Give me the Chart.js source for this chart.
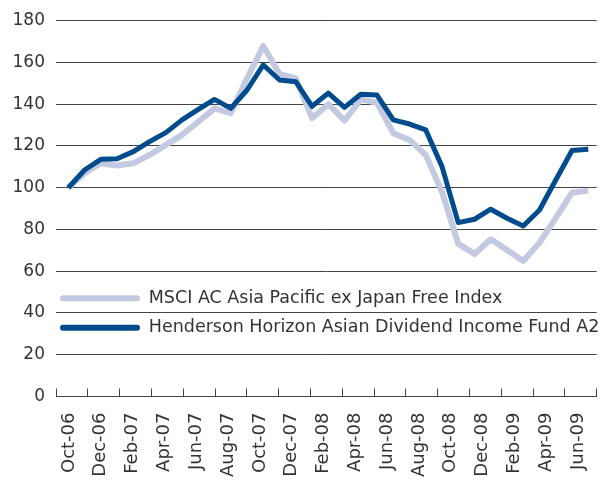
<!DOCTYPE html>
<html>
<head>
<meta charset="utf-8">
<script src="https://cdn.jsdelivr.net/npm/chart.js@4.4.1/dist/chart.umd.min.js"></script>
<style>
  html, body { margin: 0; padding: 0; background: #ffffff; }
  #wrap { width: 601px; height: 480px; position: relative; }
</style>
</head>
<body>
<div id="wrap"><canvas id="c" width="601" height="480"></canvas></div>
<script>
// Months Oct-06 .. Jun-09 (one value per month)
const months = ["Oct-06","Nov-06","Dec-06","Jan-07","Feb-07","Mar-07","Apr-07","May-07","Jun-07","Jul-07","Aug-07","Sep-07",
  "Oct-07","Nov-07","Dec-07","Jan-08","Feb-08","Mar-08","Apr-08","May-08","Jun-08","Jul-08","Aug-08","Sep-08",
  "Oct-08","Nov-08","Dec-08","Jan-09","Feb-09","Mar-09","Apr-09","May-09","Jun-09"];

// Axis tick labels (every second month)
const tickLabels = ["Oct-06","Dec-06","Feb-07","Apr-07","Jun-07","Aug-07","Oct-07","Dec-07","Feb-08",
  "Apr-08","Jun-08","Aug-08","Oct-08","Dec-08","Feb-09","Apr-09","Jun-09"];

const yTicks = [0, 20, 40, 60, 80, 100, 120, 140, 160, 180];

const msciName = "MSCI AC Asia Pacific ex Japan Free Index";
const msciValues = [100, 106.9, 111.7, 110.6, 111.7, 115.7, 120.5, 125.3, 131.6, 138.0, 135.7, 152.4,
  167.9, 154.5, 152.4, 133.3, 140.0, 132.1, 142.3, 140.7, 126.1, 122.9, 115.7, 98.0,
  73.1, 68.3, 75.3, 70.2, 64.9, 73.7, 85.4, 97.6, 98.6];

const fundName = "Henderson Horizon Asian Dividend Income Fund A2";
const fundValues = [100, 108.5, 113.6, 113.9, 117.3, 122.1, 126.4, 132.5, 137.5, 142.3, 138.0, 146.8,
  158.8, 151.6, 150.8, 139.0, 145.3, 138.5, 144.8, 144.4, 132.5, 130.5, 127.7, 110.1,
  83.3, 84.9, 89.7, 85.4, 81.7, 89.3, 103.7, 117.8, 118.4];

const msciColor = "#c4c9e2";
const fundColor = "#004b8d";
const gridColor = "#444444";
const textColor = "#333333";
const fontFamily = "'DejaVu Sans', sans-serif";

// x scale range (month index units) and tick positions (every two months, between labels)
const xMin = -0.757, xMax = 32.52;
const tickStep = (xMax - xMin) / tickLabels.length;

const legendPlace = {
  id: 'legendPlace',
  afterLayout(chart) {
    const lg = chart.legend;
    if (!lg) return;
    lg.width = 560;
    lg.left = 48.1; lg.right = lg.left + lg.width;
    lg.top = 277.65; lg.bottom = lg.top + lg.height;
  }
};

const toPoints = (vals) => vals.map((v, i) => ({ x: i, y: v }));

new Chart(document.getElementById('c'), {
  type: 'line',
  data: {
    datasets: [
      {
        label: msciName,
        data: toPoints(msciValues),
        borderColor: msciColor,
        backgroundColor: msciColor,
        borderWidth: 6,
        pointRadius: 0,
        tension: 0,
        borderJoinStyle: 'round',
        fill: false,
        order: 1
      },
      {
        label: fundName,
        data: toPoints(fundValues),
        borderColor: fundColor,
        backgroundColor: fundColor,
        borderWidth: 5,
        pointRadius: 0,
        tension: 0,
        borderJoinStyle: 'round',
        fill: false,
        order: 0
      }
    ]
  },
  options: {
    responsive: false,
    animation: false,
    devicePixelRatio: 1,
    layout: { padding: { top: 20.7, right: 4.3, left: 0, bottom: 0 } },
    plugins: {
      tooltip: { enabled: false },
      legend: {
        position: 'chartArea',
        align: 'start',
        labels: {
          boxWidth: 80,
          boxHeight: 6,
          padding: 11.9,
          color: textColor,
          font: { family: fontFamily, size: 17.5 },
          useBorderRadius: true,
          borderRadius: 3,
          sort: (a, b) => a.datasetIndex - b.datasetIndex,
          generateLabels(chart) {
            const items = Chart.defaults.plugins.legend.labels.generateLabels(chart);
            return items.map(it => Object.assign(it, { lineWidth: 0, borderRadius: 3 }));
          }
        }
      }
    },
    scales: {
      x: {
        type: 'linear',
        min: xMin,
        max: xMax,
        afterBuildTicks(scale) {
          const t = [];
          for (let k = 0; k <= tickLabels.length; k++) t.push({ value: xMin + k * tickStep });
          scale.ticks = t;
        },
        afterFit(scale) {
          scale.height = 83.5;
          scale.paddingLeft = 0; scale.paddingRight = 0;
          scale.paddingTop = 0; scale.paddingBottom = 0;
        },
        border: { display: true, color: gridColor, width: 1 },
        grid: {
          drawOnChartArea: false,
          drawTicks: true,
          tickLength: -8,
          color: gridColor,
          lineWidth: 1
        },
        ticks: {
          autoSkip: false,
          minRotation: 90,
          maxRotation: 90,
          padding: 24,
          labelOffset: 13,
          color: textColor,
          font: { family: fontFamily, size: 18 },
          callback(value, index) { return index < tickLabels.length ? tickLabels[index] : ''; }
        }
      },
      y: {
        min: yTicks[0],
        max: yTicks[yTicks.length - 1],
        afterBuildTicks(scale) { scale.ticks = yTicks.map(v => ({ value: v })); },
        afterFit(scale) {
          scale.width = 56;
          scale.paddingTop = 0; scale.paddingBottom = 0;
        },
        border: { display: false },
        grid: { color: gridColor, lineWidth: 1, drawTicks: false },
        ticks: {
          padding: 11,
          color: textColor,
          font: { family: fontFamily, size: 17 }
        }
      }
    }
  },
  plugins: [legendPlace]
});
</script>
</body>
</html>
